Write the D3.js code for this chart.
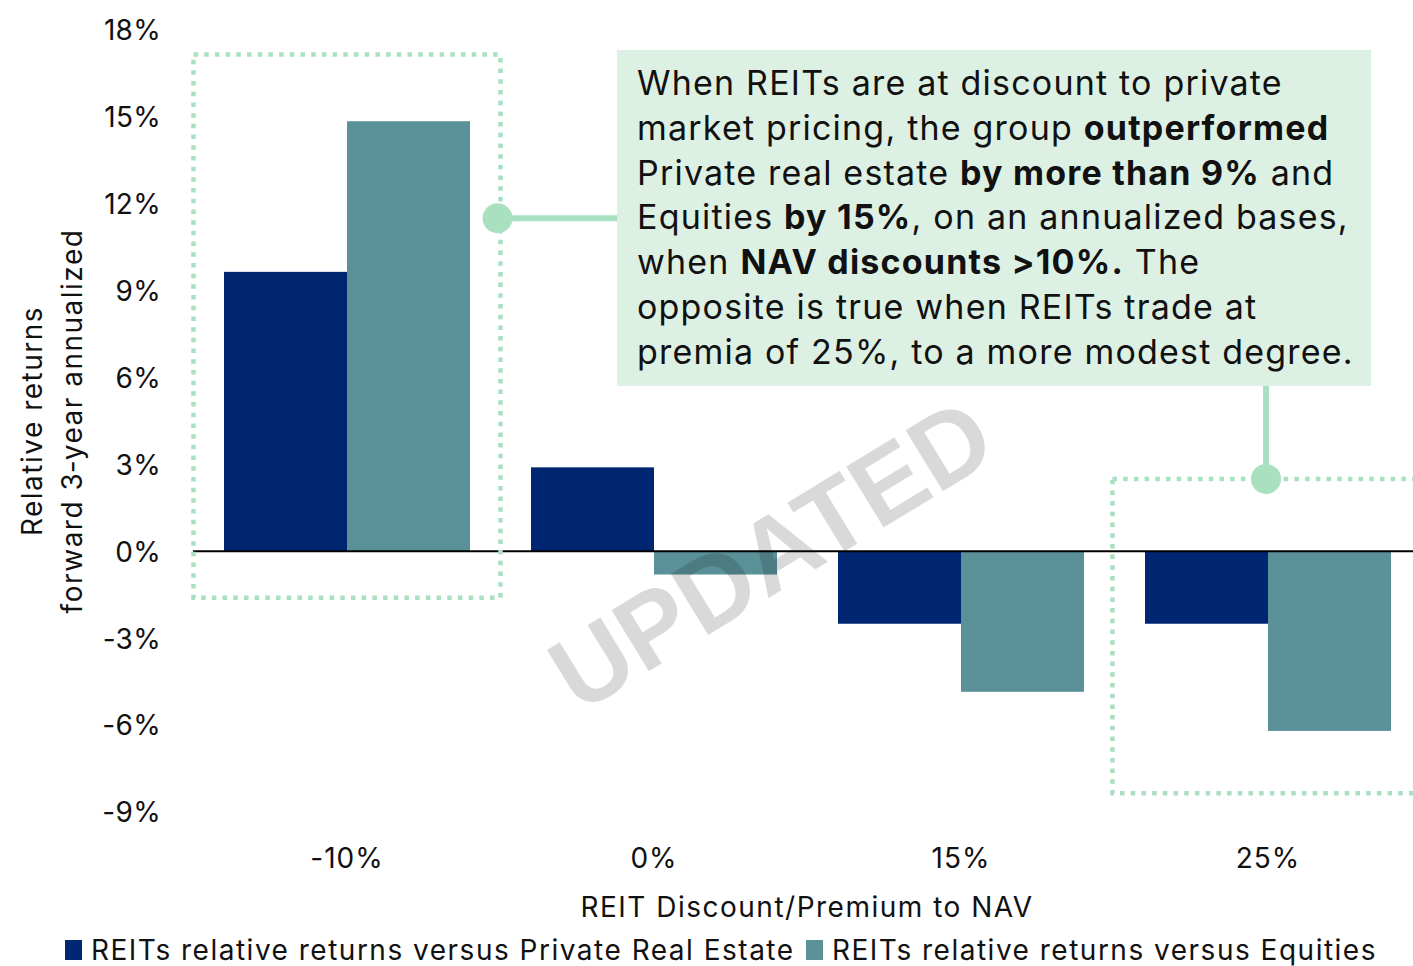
<!DOCTYPE html>
<html>
<head>
<meta charset="utf-8">
<script src="https://cdn.jsdelivr.net/npm/d3@7"></script>
<style>
  html, body { margin: 0; padding: 0; background: #fff; }
  svg { display: block; font-family: "Inter", "Lato", sans-serif; }
</style>
</head>
<body>
<svg id="chart" width="1413" height="966"></svg>
<script>
// Categories: REIT discount / premium to NAV
const categories = ["-10%", "0%", "15%", "25%"];
// Forward 3-year annualized relative returns (%)
const vsPrivateRealEstate = [9.65, 2.9, -2.5, -2.5];
const vsEquities = [14.85, -0.8, -4.85, -6.2];
const seriesNames = [
  "REITs relative returns versus Private Real Estate",
  "REITs relative returns versus Equities"
];
const yTicks = [-9, -6, -3, 0, 3, 6, 9, 12, 15, 18];

const colors = ["#002672", "#5a9199"];
const accent = "#a9e0c0";

const svg = d3.select("#chart");

const x = d3.scaleBand().domain(categories).range([193.5, 1421.5]).paddingInner(0).paddingOuter(0);
const y = d3.scaleLinear().domain([-9, 18]).range([812, 30]);
const groupPad = 30.5;
const xs = d3.scaleBand().domain([0, 1]).range([groupPad, x.bandwidth() - groupPad]);

const fontSize = 28;
const spacing = 1.5;

// Y axis tick labels (no axis line, no ticks)
const yAxis = d3.axisLeft(y).tickValues(yTicks).tickFormat(d => d + "%").tickSize(0).tickPadding(0);
const gy = svg.append("g").attr("transform", "translate(161,0)").call(yAxis);
gy.select(".domain").remove();
gy.selectAll("text").attr("font-size", fontSize).attr("font-family", "Inter, sans-serif")
  .attr("letter-spacing", 0.3).attr("fill", "#111").attr("dy", "0.35em");

// Y axis title, two rotated lines
const yTitle = svg.append("text")
  .attr("transform", `translate(0,${y(4.5)}) rotate(-90)`)
  .attr("text-anchor", "middle").attr("font-size", fontSize).attr("letter-spacing", spacing).attr("fill", "#111");
yTitle.append("tspan").attr("x", 0).attr("y", 42).text("Relative returns");
yTitle.append("tspan").attr("x", 0).attr("y", 82).text("forward 3\u2011year annualized");

// Bars
const rows = categories.map((c, i) => ({ cat: c, vals: [vsPrivateRealEstate[i], vsEquities[i]] }));
const groups = svg.append("g").selectAll("g").data(rows).join("g")
  .attr("transform", d => `translate(${x(d.cat)},0)`);
groups.selectAll("rect").data(d => d.vals.map((v, k) => ({ v, k }))).join("rect")
  .attr("x", d => xs(d.k))
  .attr("width", xs.bandwidth())
  .attr("y", d => y(Math.max(0, d.v)))
  .attr("height", d => Math.abs(y(d.v) - y(0)))
  .attr("fill", d => colors[d.k]);

// Zero line
svg.append("line").attr("x1", 193).attr("x2", 1413).attr("y1", y(0)).attr("y2", y(0))
  .attr("stroke", "#000").attr("stroke-width", 2);

// X axis labels
const xAxis = d3.axisBottom(x).tickSize(0).tickPadding(0);
const gx = svg.append("g").attr("transform", "translate(0,868)").call(xAxis);
gx.select(".domain").remove();
gx.selectAll("text").attr("font-size", fontSize).attr("font-family", "Inter, sans-serif")
  .attr("letter-spacing", 1).attr("fill", "#111").attr("dy", 0);

svg.append("text").attr("x", 807).attr("y", 917).attr("text-anchor", "middle")
  .attr("font-size", fontSize).attr("letter-spacing", spacing).attr("fill", "#111").text("REIT Discount/Premium to NAV");

// Legend
const legendX = [65, 806];
const lg = svg.append("g").selectAll("g").data(seriesNames).join("g")
  .attr("transform", (d, i) => `translate(${legendX[i]},0)`);
lg.append("rect").attr("x", 0).attr("y", 940).attr("width", 17).attr("height", 20).attr("fill", (d, i) => colors[i]);
lg.append("text").attr("x", 26).attr("y", 960).attr("font-size", fontSize).attr("letter-spacing", spacing)
  .attr("fill", "#111").text(d => d);

// Highlight frames around the -10% and 25% groups
const frame = (x0, x1, v0, v1) => svg.append("rect")
  .attr("x", x0).attr("y", y(v0)).attr("width", x1 - x0).attr("height", y(v1) - y(v0))
  .attr("fill", "none").attr("stroke", accent).attr("stroke-width", 4.5).attr("stroke-dasharray", "4.5 6.2");
frame(x("-10%"), x("-10%") + x.bandwidth(), 17.15, -1.6);
frame(x("25%") - 2, x("25%") + x.bandwidth(), 2.5, -8.35);

// Watermark
svg.append("text")
  .attr("transform", "translate(790,585) rotate(-31.5)")
  .attr("text-anchor", "middle")
  .attr("font-family", "Liberation Sans, Arial, sans-serif").attr("font-weight", "bold")
  .attr("font-size", 104).attr("fill", "#000").attr("fill-opacity", 0.15)
  .text("UPDATED");

// Callout box
const box = { x: 617, y: 50, w: 754, h: 336 };
svg.append("rect").attr("x", box.x).attr("y", box.y).attr("width", box.w).attr("height", box.h).attr("fill", "#ddf0e4");

// Connectors
const cx1 = x("-10%") + x.bandwidth() - 3, cy1 = y(11.5);
svg.append("line").attr("x1", cx1).attr("x2", box.x).attr("y1", cy1).attr("y2", cy1).attr("stroke", accent).attr("stroke-width", 6);
svg.append("circle").attr("cx", cx1).attr("cy", cy1).attr("r", 15).attr("fill", accent);
const cx2 = 1266, cy2 = y(2.5);
svg.append("line").attr("x1", cx2).attr("x2", cx2).attr("y1", box.y + box.h).attr("y2", cy2).attr("stroke", accent).attr("stroke-width", 6);
svg.append("circle").attr("cx", cx2).attr("cy", cy2).attr("r", 15).attr("fill", accent);

// Callout text (segments: [text, bold])
const lines = [
  [["When REITs are at discount to private", false]],
  [["market pricing, the group ", false], ["outperformed", true]],
  [["Private real estate ", false], ["by more than 9%", true], [" and", false]],
  [["Equities ", false], ["by 15%", true], [", on an annualized bases,", false]],
  [["when ", false], ["NAV discounts >10%.", true], [" The", false]],
  [["opposite is true when REITs trade at", false]],
  [["premia of 25%, to a more modest degree.", false]]
];
const ct = svg.append("text").attr("font-size", 34).attr("letter-spacing", 1.2).attr("fill", "#111");
lines.forEach((segs, i) => {
  segs.forEach((s, j) => {
    const t = ct.append("tspan").text(s[0]).attr("font-weight", s[1] ? 700 : 400);
    if (j === 0) t.attr("x", 637).attr("y", 95 + i * 44.8);
  });
});
</script>
</body>
</html>
